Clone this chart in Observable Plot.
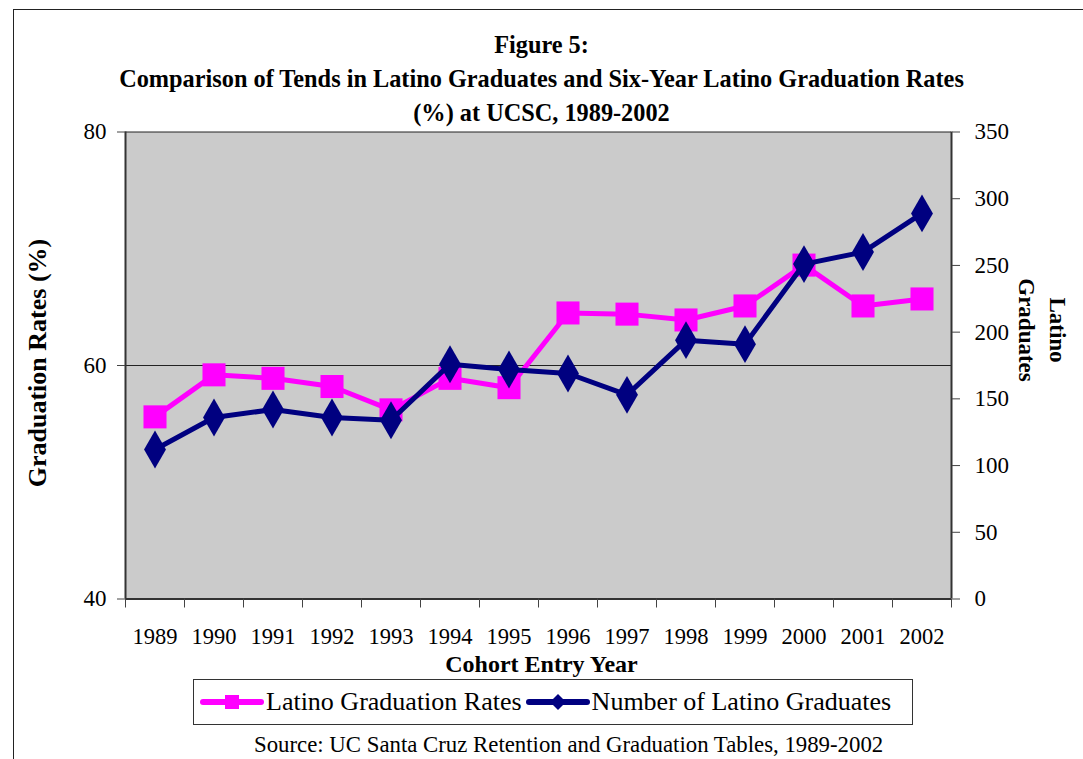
<!DOCTYPE html>
<html><head><meta charset="utf-8">
<script src="https://cdn.jsdelivr.net/npm/d3@7"></script>
<script src="https://cdn.jsdelivr.net/npm/@observablehq/plot@0.6"></script>
<style>
body{margin:0;background:#fff;width:1083px;height:759px;overflow:hidden;position:relative;font-family:"Liberation Serif","Times New Roman",serif;color:#000;}
#frame{position:absolute;left:13px;top:9px;width:1200px;height:900px;border:1px solid #222;box-sizing:border-box;}
#title{position:absolute;left:0;top:28px;width:1083px;text-align:center;font-weight:bold;font-size:24.3px;line-height:34px;}
#chart{position:absolute;left:0;top:0;}
#xlabel{position:absolute;left:0;width:1083px;top:652px;text-align:center;font-weight:bold;font-size:24px;line-height:24px;}
#ylabel{position:absolute;left:38px;top:363px;transform:translate(-50%,-50%) rotate(-90deg);white-space:nowrap;font-weight:bold;font-size:26px;}
#y2label{position:absolute;left:1042px;top:330px;transform:translate(-50%,-50%) rotate(90deg);white-space:nowrap;font-weight:bold;font-size:23px;text-align:center;line-height:31px;}
#legend{position:absolute;left:193px;top:679px;width:720px;height:46px;border:1px solid #333;box-sizing:border-box;display:flex;align-items:center;font-size:26px;white-space:nowrap;}
#legend svg{display:block;}
#source{position:absolute;left:254px;top:733px;white-space:nowrap;font-size:22.8px;line-height:24px;}
</style></head><body>
<div id="frame"></div>
<div id="title">Figure 5:<br>Comparison of Tends in Latino Graduates and Six-Year Latino Graduation Rates<br>(%) at UCSC, 1989-2002</div>
<div id="chart"></div>
<div id="xlabel">Cohort Entry Year</div>
<div id="ylabel">Graduation Rates (%)</div>
<div id="y2label">Latino<br>Graduates</div>
<div id="legend"></div>
<div id="source">Source: UC Santa Cruz Retention and Graduation Tables, 1989-2002</div>
<script>
const years = [1989,1990,1991,1992,1993,1994,1995,1996,1997,1998,1999,2000,2001,2002];
const gradRates = [55.6,59.2,58.9,58.2,56.2,58.9,58.1,64.5,64.4,63.9,65.1,68.6,65.1,65.7];
const graduates = [112,136,142,136,134,176,172,169,153,194,191,251,260,289];
const leftTicks = [40,60,80];
const rightTicks = [0,50,100,150,200,250,300,350];
const seriesNames = ["Latino Graduation Rates","Number of Latino Graduates"];
const colors = ["#ff00ff","#000080"];

const leftMin = 40, leftMax = 80, rightMax = 350;
const toLeft = v => leftMin + v * (leftMax - leftMin) / rightMax;
const toRight = v => Math.round((v - leftMin) * rightMax / (leftMax - leftMin));

const rateData = years.map((y,i)=>({year:y, v:gradRates[i]}));
const gradData = years.map((y,i)=>({year:y, v:toLeft(graduates[i])}));
const bounds = years.map(y=>y-0.5).concat([years[years.length-1]+0.5]);

const W = 1083, H = 680;
const plot = Plot.plot({
  width: W, height: H,
  marginLeft: 125, marginRight: 132, marginTop: 131.5, marginBottom: H - 598.5,
  style: {fontFamily: '"Liberation Serif","Times New Roman",serif', fontSize: "22px", background: "transparent", color: "#000"},
  x: {type: "linear", domain: [bounds[0], bounds[bounds.length-1]]},
  y: {domain: [leftMin, leftMax]},
  marks: [
    Plot.frame({fill: "#cbcbcb", stroke: null}),
    Plot.ruleY([60, 80], {stroke: "#222", strokeWidth: 1}),
    Plot.ruleX([bounds[0]], {stroke: "#333", strokeWidth: 2}),
    Plot.ruleX([bounds[bounds.length-1]], {stroke: "#333", strokeWidth: 2}),
    Plot.ruleY([40], {stroke: "#333", strokeWidth: 2}),
    Plot.axisX(bounds, {tickSize: 9, tickFormat: () => "", stroke: "#444", label: null}),
    Plot.axisX(years, {tickSize: 0, tickPadding: 29, tickFormat: d => String(d), fontSize: 22.5, label: null}),
    Plot.axisY(leftTicks, {anchor: "left", tickSize: 8, tickPadding: 11, fontSize: 23, stroke: "#444", label: null}),
    Plot.axisY(rightTicks.map(toLeft), {anchor: "right", tickSize: 8, tickPadding: 15, fontSize: 23, stroke: "#444", tickFormat: toRight, label: null}),
    Plot.line(rateData, {x: "year", y: "v", stroke: colors[0], strokeWidth: 5}),
    Plot.dot(rateData, {x: "year", y: "v", symbol: "square", r: 13, fill: colors[0], stroke: null}),
    Plot.line(gradData, {x: "year", y: "v", stroke: colors[1], strokeWidth: 5}),
    Plot.dot(gradData, {x: "year", y: "v", symbol: "diamond", r: 11.5, fill: colors[1], stroke: null})
  ]
});
document.getElementById("chart").appendChild(plot);

// legend
const legend = document.getElementById("legend");
function swatch(color, shape, ml) {
  const ns = "http://www.w3.org/2000/svg";
  const s = document.createElementNS(ns, "svg");
  s.setAttribute("width", 64); s.setAttribute("height", 24);
  s.style.marginLeft = ml + "px";
  const l = document.createElementNS(ns, "line");
  l.setAttribute("x1", 3); l.setAttribute("x2", 61); l.setAttribute("y1", 12); l.setAttribute("y2", 12);
  l.setAttribute("stroke", color); l.setAttribute("stroke-width", 6); l.setAttribute("stroke-linecap", "round");
  s.appendChild(l);
  const p = document.createElementNS(ns, "path");
  p.setAttribute("d", shape === "square" ? "M25,5h14v14h-14z" : "M32,4l8,8l-8,8l-8,-8z");
  p.setAttribute("fill", color);
  s.appendChild(p);
  return s;
}
seriesNames.forEach((name, i) => {
  legend.appendChild(swatch(colors[i], i === 0 ? "square" : "diamond", i === 0 ? 6 : 4));
  const t = document.createElement("span");
  t.textContent = name;
  t.style.marginLeft = "2px";
  legend.appendChild(t);
});
</script>
</body></html>
